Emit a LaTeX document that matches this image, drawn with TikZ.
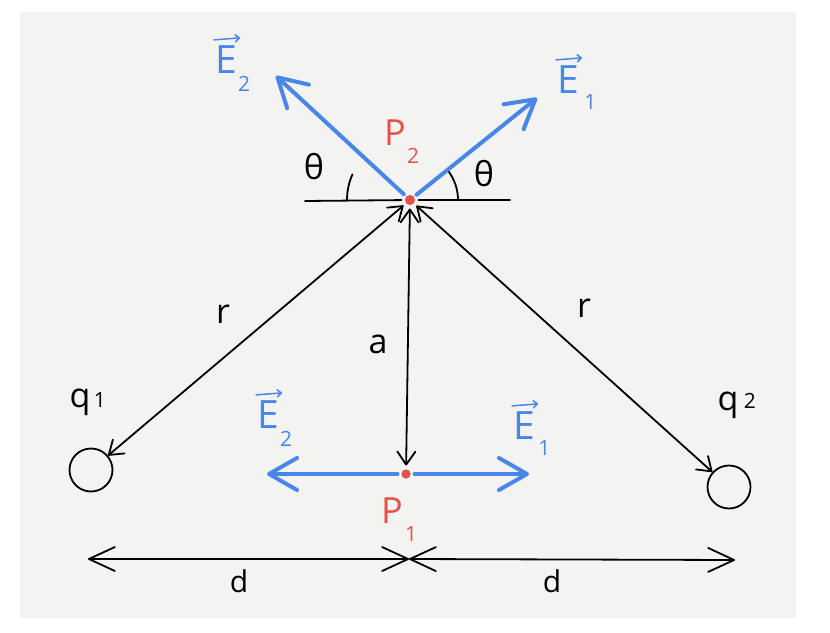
\documentclass[tikz,border=0pt]{standalone}
\usepackage{fontspec}
\setmainfont{Open Sans}
\usetikzlibrary{arrows.meta}
\definecolor{paper}{HTML}{F3F3F1}
\definecolor{eblue}{HTML}{4A86E8}
\definecolor{pred}{HTML}{E5524C}
\tikzset{
  blk/.style={line width=1.8pt, draw=black, line cap=round, line join=round},
  barb/.tip={Straight Barb[length=13pt,width=18pt,round]},
  bigbarb/.tip={Straight Barb[length=26pt,width=24pt,round]},
  bluebarb/.tip={Straight Barb[length=28pt,width=32pt,round]},
  smallbarb/.tip={Straight Barb[length=4pt,width=7pt,round]},
  twoway/.style={blk, barb-barb},
  dimline/.style={blk, bigbarb-bigbarb},
  efield/.style={line width=4pt, draw=eblue, line cap=round, line join=round, -bluebarb},
  vecmark/.style={line width=1.5pt, draw=eblue, line cap=round, -smallbarb},
  dotnode/.style={circle, fill=pred, minimum size=9pt, inner sep=0pt, outer sep=4pt},
  charge/.style={circle, draw=black, line width=1.8pt, minimum size=43pt, inner sep=0pt},
  lbl/.style={font=\fontsize{34}{40}\selectfont, inner sep=0pt},
  dlbl/.style={font=\fontsize{30}{36}\selectfont, inner sep=0pt},
  sublbl/.style={font=\fontsize{21}{24}\selectfont, inner sep=0pt},
  elbl/.style={font=\fontsize{39}{44}\selectfont, text=eblue, inner sep=0pt},
  plbl/.style={font=\fontsize{36}{42}\selectfont, text=pred, inner sep=0pt}
}
\begin{document}
\begin{tikzpicture}[x=1pt,y=-1pt]
  \useasboundingbox (0,0) rectangle (830,632);
  \fill[white] (0,0) rectangle (830,632);
  \fill[paper] (20,12) rectangle (796,618);

  % points and charges
  \node[dotnode] (P2) at (410,200) {};
  \node[dotnode] (P1) at (406,474) {};
  \node[charge] (q1) at (91,470) {};
  \node[charge] (q2) at (729,487) {};

  % free ends
  \coordinate (hL) at (305,201);
  \coordinate (hR) at (510,200);
  \coordinate (E2up) at (276,76);
  \coordinate (E1up) at (537,98);
  \coordinate (E2lo) at (267,474);
  \coordinate (E1lo) at (529,474);
  \coordinate (dL) at (88,559);
  \coordinate (dM) at (409,559);
  \coordinate (dR) at (735,560);

  % horizontal reference line at P2
  \draw[blk] (hL) -- (P2);
  \draw[blk] (P2) -- (hR);

  % angle marks
  \draw[blk] (P2) ++(180:63) arc[start angle=180, end angle=204, radius=63];
  \draw[blk] (P2) ++(0:48) arc[start angle=0, end angle=-37, radius=48];

  % distances
  \draw[twoway] (P2) -- (q1);
  \draw[twoway] (P2) -- (q2);
  \draw[twoway] (P2) -- (P1);
  \draw[dimline] (dL) -- (dM);
  \draw[dimline] (dM) -- (dR);

  % field vectors
  \draw[efield] (P2) -- (E2up);
  \draw[efield] (P2) -- (E1up);
  \draw[efield] (P1) -- (E2lo);
  \draw[efield] (P1) -- (E1lo);

  % redraw dots on top
  \fill[pred] (P2) circle[radius=5pt];
  \fill[pred] (P1) circle[radius=4.5pt];

  % E labels with vector marks
  \node[elbl] (lE2up) at (226,60) {E};
  \node[sublbl, text=eblue, anchor=north west] (sE2up) at ([xshift=1pt,yshift=-2pt]lE2up.south east) {2};
  \draw[vecmark] ([xshift=-1pt,yshift=6pt]lE2up.north west) -- ([xshift=3pt,yshift=8pt]lE2up.north east);

  \node[elbl] (lE1up) at (568,80) {E};
  \node[sublbl, text=eblue, anchor=north west] (sE1up) at ([xshift=5pt,yshift=0pt]lE1up.south east) {1};
  \draw[vecmark] ([xshift=-1pt,yshift=6pt]lE1up.north west) -- ([xshift=3pt,yshift=8pt]lE1up.north east);

  \node[elbl] (lE2lo) at (268,415) {E};
  \node[sublbl, text=eblue, anchor=north west] (sE2lo) at ([xshift=1pt,yshift=-2pt]lE2lo.south east) {2};
  \draw[vecmark] ([xshift=-1pt,yshift=6pt]lE2lo.north west) -- ([xshift=3pt,yshift=8pt]lE2lo.north east);

  \node[elbl] (lE1lo) at (524,426) {E};
  \node[sublbl, text=eblue, anchor=north west] (sE1lo) at ([xshift=3pt,yshift=0pt]lE1lo.south east) {1};
  \draw[vecmark] ([xshift=-1pt,yshift=6pt]lE1lo.north west) -- ([xshift=3pt,yshift=8pt]lE1lo.north east);

  % P labels
  \node[plbl] (lP2) at (395,133) {P};
  \node[sublbl, text=pred, anchor=north west] (sP2) at ([xshift=1pt,yshift=-2pt]lP2.south east) {2};
  \node[plbl] (lP1) at (392,511) {P};
  \node[sublbl, text=pred, anchor=north west] (sP1) at ([xshift=2pt,yshift=-2pt]lP1.south east) {1};

  % other labels
  \node[lbl] (th1) at (314,167) {θ};
  \node[lbl] (th2) at (484,174) {θ};
  \node[lbl] (r1) at (223,314) {r};
  \node[lbl] (r2) at (584,308) {r};
  \node[lbl] (la) at (378,344) {a};
  \node[lbl] (lq1) at (80,402) {q};
  \node[sublbl, anchor=west] (slq1) at ([xshift=3pt,yshift=2pt]lq1.east) {1};
  \node[lbl] (lq2) at (728,405) {q};
  \node[sublbl, anchor=west] (slq2) at ([xshift=5pt,yshift=4pt]lq2.east) {2};
  \node[dlbl] (ld1) at (239,581) {d};
  \node[dlbl] (ld2) at (552,581) {d};
\end{tikzpicture}
\end{document}
